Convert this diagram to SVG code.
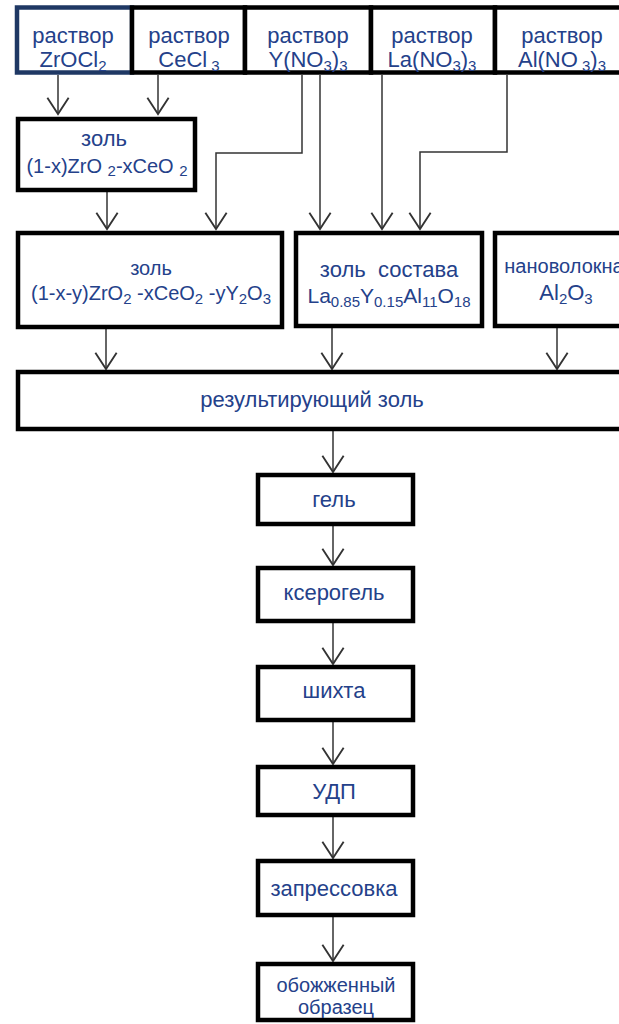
<svg xmlns="http://www.w3.org/2000/svg" width="619" height="1024" viewBox="0 0 619 1024">
<style>
.box{fill:#fff;stroke:#000;stroke-width:4.5}
.nb{stroke:#1f3864}
.t{font-family:"Liberation Sans",Arial,sans-serif;font-size:22px;fill:#24418a;text-anchor:middle}
.f{font-size:20px}
.s{font-size:15px}
.c{fill:none;stroke:#333;stroke-width:1.5}
</style>
<defs>
<marker id="ah" markerUnits="userSpaceOnUse" markerWidth="30" markerHeight="30" refX="0" refY="0" viewBox="-15 -12 17 24" orient="auto" overflow="visible">
<path d="M-13,-8.5 L0,0 L-13,8.5" fill="none" stroke="#333" stroke-width="1.5"/>
</marker>
</defs>
<rect width="619" height="1024" fill="#fff"/>
<g id="connectors">
<path class="c" d="M58,75 V114" marker-end="url(#ah)"/>
<path class="c" d="M158,75 V114" marker-end="url(#ah)"/>
<path class="c" d="M302,75 V153 H216 V229" marker-end="url(#ah)"/>
<path class="c" d="M320,75 V229" marker-end="url(#ah)"/>
<path class="c" d="M382,75 V229" marker-end="url(#ah)"/>
<path class="c" d="M507,75 V152 H420 V229" marker-end="url(#ah)"/>
<path class="c" d="M107,192 V229" marker-end="url(#ah)"/>
<path class="c" d="M106,329 V369" marker-end="url(#ah)"/>
<path class="c" d="M332,328 V369" marker-end="url(#ah)"/>
<path class="c" d="M557,328 V369" marker-end="url(#ah)"/>
<path class="c" d="M333,431 V472" marker-end="url(#ah)"/>
<path class="c" d="M333,526 V565" marker-end="url(#ah)"/>
<path class="c" d="M333,623 V664" marker-end="url(#ah)"/>
<path class="c" d="M333,722 V764" marker-end="url(#ah)"/>
<path class="c" d="M333,817 V858" marker-end="url(#ah)"/>
<path class="c" d="M333,917 V961" marker-end="url(#ah)"/>
</g>
<g id="n-zrocl2">
<rect class="box nb" x="17" y="7.5" width="115" height="65"/>
<text class="t" x="73" y="43">раствор</text>
<text class="t" x="73" y="67">ZrOCl<tspan class="s" dy="4">2</tspan></text>
</g>
<g id="n-cecl3">
<rect class="box" x="132" y="7.5" width="113" height="65"/>
<text class="t" x="189" y="43">раствор</text>
<text class="t" x="189" y="67">CeCl<tspan class="s" dy="4"> 3</tspan></text>
</g>
<g id="n-yno3">
<rect class="box" x="245" y="7.5" width="126" height="65"/>
<text class="t" x="308" y="43">раствор</text>
<text class="t" x="308" y="67">Y(NO<tspan class="s" dy="4">3</tspan><tspan dy="-4">)</tspan><tspan class="s" dy="4">3</tspan></text>
</g>
<g id="n-lano3">
<rect class="box" x="371" y="7.5" width="124" height="65"/>
<text class="t" x="432" y="43">раствор</text>
<text class="t" x="432" y="67">La(NO<tspan class="s" dy="4">3</tspan><tspan dy="-4">)</tspan><tspan class="s" dy="4">3</tspan></text>
</g>
<g id="n-alno3">
<rect class="box" x="495" y="7.5" width="140" height="65"/>
<text class="t" x="562" y="43">раствор</text>
<text class="t" x="562" y="67">Al(NO<tspan class="s" dy="4"> 3</tspan><tspan dy="-4">)</tspan><tspan class="s" dy="4">3</tspan></text>
</g>
<g id="n-sol1">
<rect class="box" x="18" y="119" width="177" height="71"/>
<text class="t" x="104" y="146">золь</text>
<text class="t f" x="107" y="173">(1-x)ZrO <tspan class="s" dy="3">2</tspan><tspan dy="-3">-xCeO </tspan><tspan class="s" dy="3">2</tspan></text>
</g>
<g id="n-sol2">
<rect class="box" x="18" y="233" width="264" height="94"/>
<text class="t f" x="151" y="275">золь</text>
<text class="t f" x="151" y="300">(1-x-y)ZrO<tspan class="s" dy="4">2</tspan><tspan dy="-4"> -xCeO</tspan><tspan class="s" dy="4">2</tspan><tspan dy="-4"> -yY</tspan><tspan class="s" dy="4">2</tspan><tspan dy="-4">O</tspan><tspan class="s" dy="4">3</tspan></text>
</g>
<g id="n-sol3">
<rect class="box" x="296" y="233" width="186" height="93"/>
<text class="t" x="389" y="277" xml:space="preserve">золь  состава</text>
<text class="t" x="389" y="303" style="font-size:21px">La<tspan class="s" dy="4">0.85</tspan><tspan dy="-4">Y</tspan><tspan class="s" dy="4">0.15</tspan><tspan dy="-4">Al</tspan><tspan class="s" dy="4">11</tspan><tspan dy="-4">O</tspan><tspan class="s" dy="4">18</tspan></text>
</g>
<g id="n-fibers">
<rect class="box" x="495" y="233" width="140" height="93"/>
<text class="t f" x="564" y="273">нановолокна</text>
<text class="t" x="566" y="300">Al<tspan class="s" dy="4">2</tspan><tspan dy="-4">O</tspan><tspan class="s" dy="4">3</tspan></text>
</g>
<g id="n-result">
<rect class="box" x="18" y="372" width="620" height="57"/>
<text class="t" x="312" y="407">результирующий золь</text>
</g>
<g id="n-gel">
<rect class="box" x="258" y="475" width="155" height="49"/>
<text class="t" x="334" y="507">гель</text>
</g>
<g id="n-xerogel">
<rect class="box" x="258" y="568" width="155" height="53"/>
<text class="t" x="334" y="600">ксерогель</text>
</g>
<g id="n-charge">
<rect class="box" x="258" y="667" width="155" height="53"/>
<text class="t" x="334" y="698">шихта</text>
</g>
<g id="n-udp">
<rect class="box" x="258" y="767" width="155" height="48"/>
<text class="t" x="334" y="799">УДП</text>
</g>
<g id="n-press">
<rect class="box" x="258" y="861" width="155" height="54"/>
<text class="t" x="334" y="896">запрессовка</text>
</g>
<g id="n-fired">
<rect class="box" x="258" y="964" width="155" height="56"/>
<text class="t f" x="336" y="992">обожженный</text>
<text class="t f" x="336" y="1014">образец</text>
</g>
</svg>
